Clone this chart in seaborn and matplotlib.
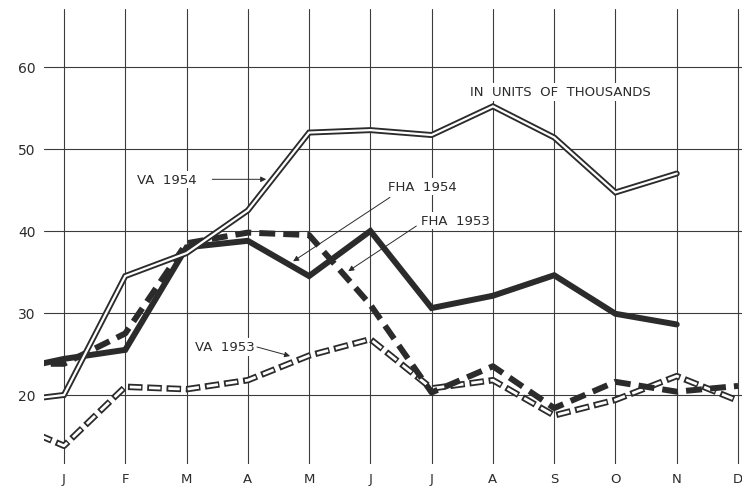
import matplotlib
matplotlib.use("Agg")
import matplotlib.pyplot as plt
import matplotlib.patheffects as pe
import numpy as np
import pandas as pd
import seaborn as sns

# slot 0 is the December before the year, 1..12 are Jan..Dec
months = list(range(13))
month_labels = ["J", "F", "M", "A", "M", "J", "J", "A", "S", "O", "N", "D"]
y_ticks = [20, 30, 40, 50, 60]

# thousands of units
va_1954 = [19.1, 20.0, 34.5, 37.3, 42.5, 52.0, 52.3, 51.7, 55.2, 51.4, 44.7, 47.0, np.nan]
fha_1954 = [22.8, 24.4, 25.5, 38.0, 38.8, 34.5, 40.0, 30.6, 32.1, 34.6, 29.9, 28.6, np.nan]
fha_1953 = [23.8, 23.8, 27.5, 38.5, 39.8, 39.5, 31.0, 20.3, 23.5, 18.4, 21.6, 20.4, 21.1]
va_1953 = [17.0, 13.8, 21.0, 20.7, 21.8, 24.8, 26.8, 20.8, 21.8, 17.5, 19.4, 22.3, 19.3]

INK = "#2b2b2b"
GRID = "#3c3c3c"


def setup_style() -> None:
    sns.set_style("white")
    plt.rcParams.update({
        "font.family": ["DejaVu Sans"],
        "lines.scale_dashes": False,
        "text.color": INK,
        "xtick.color": INK,
        "ytick.color": INK,
    })


def main() -> None:
    setup_style()
    df = pd.DataFrame({
        "month": months,
        "va_1954": va_1954,
        "fha_1954": fha_1954,
        "fha_1953": fha_1953,
        "va_1953": va_1953,
    })

    fig = plt.figure(figsize=(7.42, 4.89), dpi=100)
    ax = fig.add_axes([44 / 742, 24 / 489, 698 / 742, 455 / 489])
    ax.set_xlim(0.674, 12.065)
    ax.set_ylim(11.58, 67.07)

    # hand-drawn style grid
    for m in range(1, 13):
        ax.axvline(m, color=GRID, lw=0.8, zorder=1)
    for v in y_ticks:
        ax.axhline(v, color=GRID, lw=0.8, zorder=1)

    common = dict(data=df, x="month", ax=ax, errorbar=None, legend=False)

    # VA 1953: hollow dashed line (black dashes with white cores)
    sns.lineplot(y="va_1953", color=INK, linewidth=4.6,
                 linestyle=(0, (10.5, 3.4)), dash_capstyle="butt", zorder=3, **common)
    sns.lineplot(y="va_1953", color="white", linewidth=2.0,
                 linestyle=(12.6, (8.2, 5.7)), dash_capstyle="butt", zorder=3.1, **common)

    # FHA 1953: heavy dashed line
    sns.lineplot(y="fha_1953", color=INK, linewidth=4.3,
                 linestyle=(0, (11.5, 5.8)), dash_capstyle="butt", zorder=4, **common)

    # FHA 1954: heavy solid line
    sns.lineplot(y="fha_1954", color=INK, linewidth=4.3,
                 solid_joinstyle="miter", zorder=5, **common)

    # VA 1954: double (outlined) line
    sns.lineplot(y="va_1954", color="white", linewidth=1.6, solid_joinstyle="miter",
                 zorder=6, **common)
    ax.lines[-1].set_path_effects([
        pe.Stroke(linewidth=4.3, foreground=INK), pe.Normal()])

    label_kw = dict(fontsize=9.5, va="center", ha="left", zorder=8,
                    bbox=dict(facecolor="white", edgecolor="none", pad=1.5))
    arrow_kw = dict(arrowstyle="-|>", color=INK, lw=0.7, mutation_scale=8,
                    shrinkA=0, shrinkB=0)

    ax.text(2.19, 46.3, "VA  1954", **label_kw)
    ax.annotate("", xy=(4.30, 46.3), xytext=(3.42, 46.3), arrowprops=arrow_kw, zorder=8)

    ax.text(6.29, 45.4, "FHA  1954", **label_kw)
    ax.annotate("", xy=(4.74, 36.3), xytext=(6.32, 44.1), arrowprops=arrow_kw, zorder=8)

    ax.text(6.83, 41.3, "FHA  1953", **label_kw)
    ax.annotate("", xy=(5.64, 35.1), xytext=(6.75, 40.6), arrowprops=arrow_kw, zorder=8)

    ax.text(3.14, 25.85, "VA  1953", **label_kw)
    ax.annotate("", xy=(4.69, 24.75), xytext=(4.15, 25.85), arrowprops=arrow_kw, zorder=8)

    ax.text(7.63, 56.95, "IN  UNITS  OF  THOUSANDS", **label_kw)

    ax.set_xticks(range(1, 13))
    ax.set_xticklabels(month_labels)
    ax.set_yticks(y_ticks)
    ax.set_yticklabels([str(v) for v in y_ticks])
    ax.tick_params(axis="both", length=0, labelsize=10)
    ax.tick_params(axis="x", pad=6, labelsize=9.5)
    ax.tick_params(axis="y", pad=6)
    ax.set_xlabel("")
    ax.set_ylabel("")
    for spine in ax.spines.values():
        spine.set_visible(False)

    fig.savefig("out.png", dpi=100, facecolor="white")
    plt.close(fig)


if __name__ == "__main__":
    main()
